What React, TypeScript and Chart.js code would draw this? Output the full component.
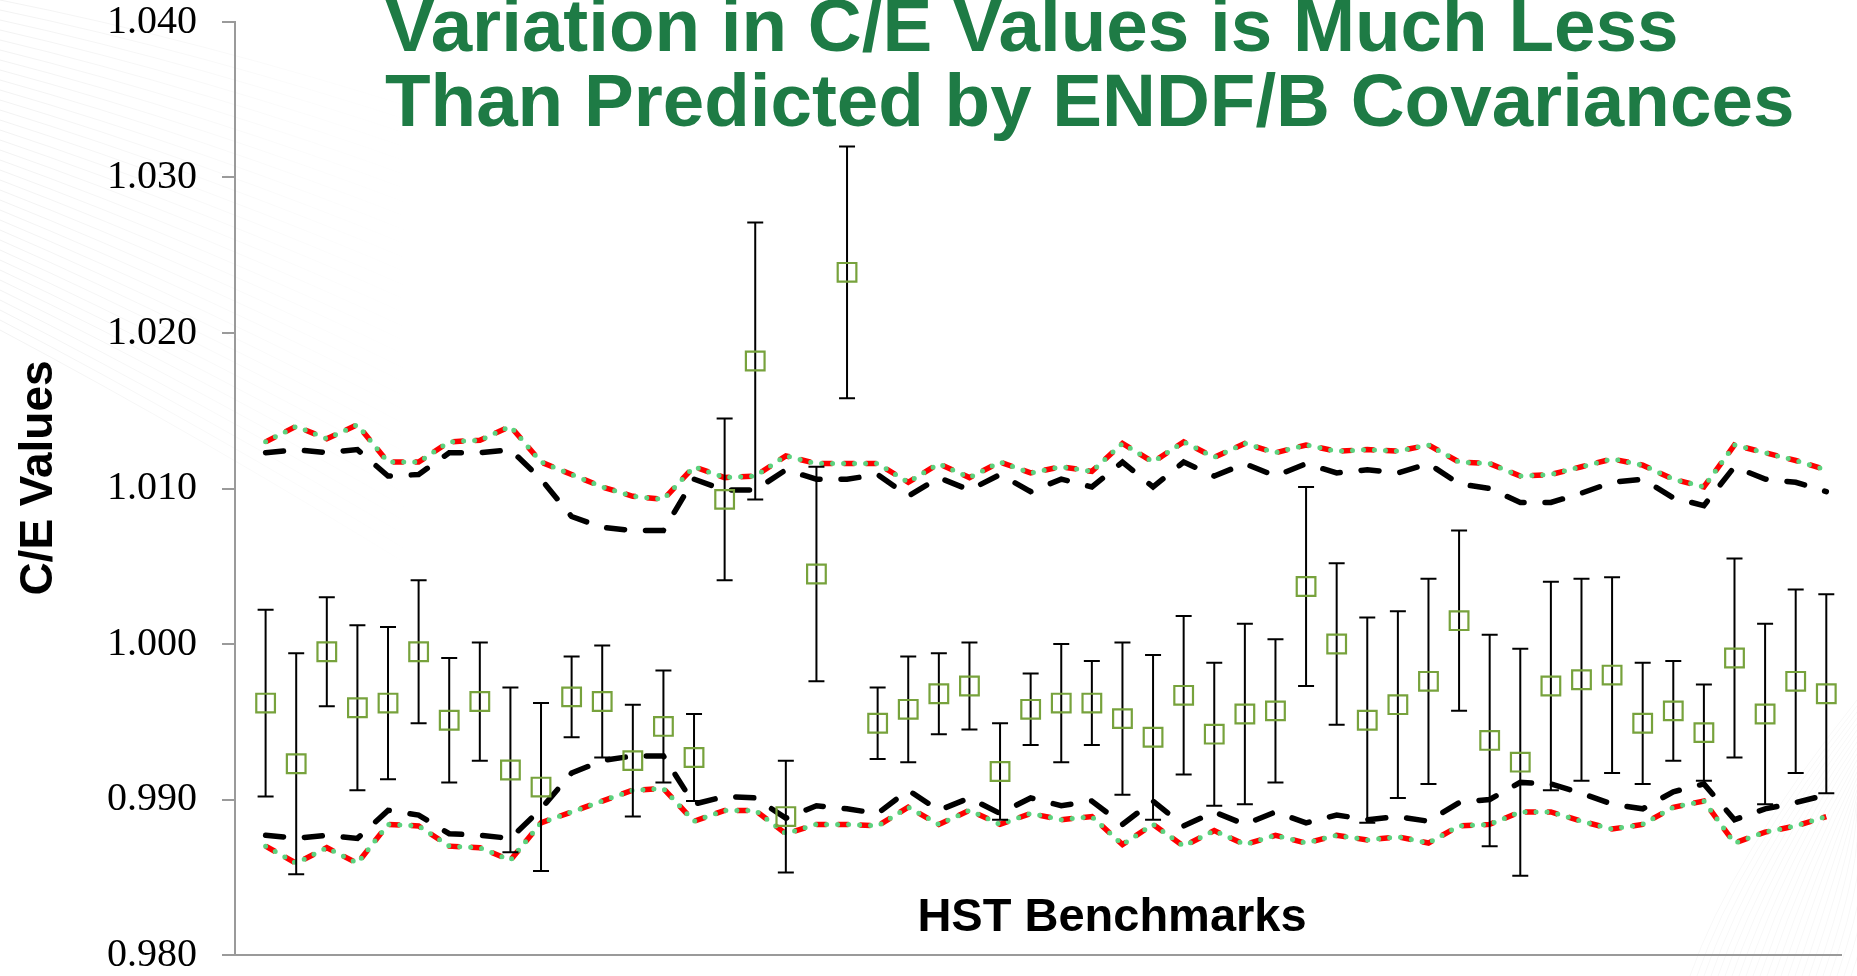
import { useEffect, useRef } from 'react';
import { Chart, registerables } from 'chart.js';

Chart.register(...registerables);

const benchmarks = [
  1, 2, 3, 4, 5, 6, 7, 8, 9, 10, 11, 12, 13, 14, 15, 16, 17, 18, 19, 20, 21, 22, 23, 24, 25, 26,
  27, 28, 29, 30, 31, 32, 33, 34, 35, 36, 37, 38, 39, 40, 41, 42, 43, 44, 45, 46, 47, 48, 49, 50, 51, 52,
];

const ceValues = [
  0.9962, 0.9923, 0.9995, 0.9959, 0.9962, 0.9995, 0.9951, 0.9963, 0.9919, 0.9908,
  0.9966, 0.9963, 0.9925, 0.9947, 0.9927, 1.0093, 1.0182, 0.9889, 1.0045, 1.0239,
  0.9949, 0.9958, 0.9968, 0.9973, 0.9918, 0.9958, 0.9962, 0.9962, 0.9952, 0.994,
  0.9967, 0.9942, 0.9955, 0.9957, 1.0037, 1.0, 0.9951, 0.9961, 0.9976, 1.0015,
  0.9938, 0.9924, 0.9973, 0.9977, 0.998, 0.9949, 0.9957, 0.9943, 0.9991, 0.9955,
  0.9976, 0.9968,
];

const ceErrors = [
  0.006, 0.0071, 0.0035, 0.0053, 0.0049, 0.0046, 0.004, 0.0038, 0.0053, 0.0054,
  0.0026, 0.0036, 0.0036, 0.0036, 0.0028, 0.0052, 0.0089, 0.0036, 0.0069, 0.0081,
  0.0023, 0.0034, 0.0026, 0.0028, 0.0031, 0.0023, 0.0038, 0.0027, 0.0049, 0.0053,
  0.0051, 0.0046, 0.0058, 0.0046, 0.0064, 0.0052, 0.0066, 0.006, 0.0066, 0.0058,
  0.0068, 0.0073, 0.0067, 0.0065, 0.0063, 0.0039, 0.0032, 0.0031, 0.0064, 0.0058,
  0.0059, 0.0064,
];

// red / green dotted band
const upperA = [
  1.013, 1.014, 1.0132, 1.0141, 1.0117, 1.0117, 1.013, 1.0131, 1.014, 1.0117,
  1.0109, 1.0101, 1.0095, 1.0093, 1.0114, 1.0107, 1.0108, 1.0121, 1.0116, 1.0116,
  1.0116, 1.0104, 1.0116, 1.0107, 1.0117, 1.011, 1.0114, 1.0111, 1.0129, 1.0117,
  1.013, 1.012, 1.0129, 1.0123, 1.0128, 1.0124, 1.0125, 1.0124, 1.0128, 1.0117,
  1.0116, 1.0108, 1.0109, 1.0114, 1.0119, 1.0115, 1.0106, 1.0101, 1.0128, 1.0123,
  1.0118, 1.0112,
];

const lowerA = [
  0.987, 0.9859, 0.9869, 0.9859, 0.9884, 0.9883, 0.987, 0.9869, 0.9861, 0.9885,
  0.9892, 0.9899, 0.9906, 0.9907, 0.9886, 0.9893, 0.9893, 0.9878, 0.9884, 0.9884,
  0.9883, 0.9895, 0.9884, 0.9893, 0.9884, 0.9891, 0.9887, 0.9889, 0.9871, 0.9884,
  0.987, 0.988, 0.9871, 0.9877, 0.9872, 0.9877, 0.9874, 0.9876, 0.9872, 0.9883,
  0.9884, 0.9892, 0.9892, 0.9886, 0.9881, 0.9884, 0.9895, 0.9899, 0.9872, 0.9879,
  0.9883, 0.9889,
];

// black dashed band
const upperB = [
  1.0123, 1.0125, 1.0123, 1.0125, 1.0108, 1.0109, 1.0123, 1.0123, 1.0125, 1.0106,
  1.0082, 1.0075, 1.0073, 1.0073, 1.0106, 1.0099, 1.0099, 1.0112, 1.0106, 1.0106,
  1.0109, 1.0095, 1.0107, 1.0099, 1.0109, 1.0098, 1.0106, 1.0101, 1.0117, 1.0101,
  1.0117, 1.0108, 1.0116, 1.0108, 1.0116, 1.011, 1.0112, 1.011, 1.0116, 1.0103,
  1.01, 1.0091, 1.0091, 1.0097, 1.0104, 1.0106, 1.0094, 1.0089, 1.0114, 1.0106,
  1.0104, 1.0098,
];

const lowerB = [
  0.9877, 0.9875, 0.9877, 0.9875, 0.9893, 0.989, 0.9878, 0.9877, 0.9875, 0.9894,
  0.9917, 0.9925, 0.9928, 0.9928, 0.9897, 0.9902, 0.9901, 0.9888, 0.9896, 0.9894,
  0.9891, 0.9906, 0.9893, 0.9901, 0.9891, 0.9901, 0.9896, 0.9899, 0.9884, 0.9899,
  0.9883, 0.9892, 0.9884, 0.9892, 0.9885, 0.989, 0.9887, 0.9889, 0.9886, 0.9898,
  0.99, 0.9911, 0.991, 0.9904, 0.9897, 0.9894, 0.9905, 0.991, 0.9887, 0.9894,
  0.9898, 0.9903,
];

const yTicks = [0.98, 0.99, 1.0, 1.01, 1.02, 1.03, 1.04];

const titleLines = ['Variation in C/E Values is Much Less', 'Than Predicted by ENDF/B Covariances'];
const yTitle = 'C/E Values';
const xTitle = 'HST Benchmarks';

const SANS = "'Liberation Sans', Arial, sans-serif";
const SERIF = "'Liberation Serif', 'Times New Roman', serif";

const toXY = (arr: number[]) => arr.map((v, i) => ({ x: benchmarks[i], y: v }));

export default function App() {
  const ref = useRef<HTMLCanvasElement>(null);

  useEffect(() => {
    const canvas = ref.current;
    if (!canvas) return;

    const backdrop = {
      id: 'backdrop',
      beforeDraw(chart: any) {
        const { ctx } = chart;
        ctx.save();
        ctx.lineWidth = 1;
        for (let k = 0; k < 34; k++) {
          const y0 = k * 10;
          const g = ctx.createLinearGradient(0, 0, 420, 0);
          g.addColorStop(0, 'rgba(0,0,0,0.05)');
          g.addColorStop(1, 'rgba(0,0,0,0)');
          ctx.strokeStyle = g;
          ctx.beginPath();
          ctx.moveTo(0, y0);
          ctx.quadraticCurveTo(200, y0 + 40 + k * 2, 420, y0 + 110 + k * 4);
          ctx.stroke();
        }
        for (let k = 0; k < 24; k++) {
          const x0 = 1690 + k * 7;
          ctx.strokeStyle = 'rgba(0,40,0,0.03)';
          ctx.beginPath();
          ctx.moveTo(x0, 976);
          ctx.quadraticCurveTo(x0 + 40, 860, 1857, 700 + k * 6);
          ctx.stroke();
        }
        ctx.restore();
      },
    };

    const errorBars = {
      id: 'errorBars',
      beforeDatasetDraw(chart: any, args: any) {
        if (args.index !== 0) return;
        const { ctx, scales } = chart;
        ctx.save();
        ctx.strokeStyle = '#000';
        ctx.lineWidth = 2;
        ceValues.forEach((v, i) => {
          const x = scales.x.getPixelForValue(benchmarks[i]);
          const yt = scales.y.getPixelForValue(v + ceErrors[i]);
          const yb = scales.y.getPixelForValue(v - ceErrors[i]);
          ctx.beginPath();
          ctx.moveTo(x, yt);
          ctx.lineTo(x, yb);
          ctx.moveTo(x - 8, yt);
          ctx.lineTo(x + 8, yt);
          ctx.moveTo(x - 8, yb);
          ctx.lineTo(x + 8, yb);
          ctx.stroke();
        });
        ctx.restore();
      },
    };

    const texts = {
      id: 'texts',
      afterDraw(chart: any) {
        const { ctx } = chart;
        ctx.save();
        ctx.fillStyle = '#1E7B45';
        ctx.font = `bold 74.6px ${SANS}`;
        ctx.textAlign = 'left';
        ctx.textBaseline = 'alphabetic';
        ctx.fillText(titleLines[0], 385, 51);
        ctx.fillText(titleLines[1], 385, 126);

        ctx.fillStyle = '#000';
        ctx.font = `bold 47px ${SANS}`;
        ctx.textAlign = 'center';
        ctx.fillText(xTitle, 1112, 931);

        ctx.translate(52, 478);
        ctx.rotate(-Math.PI / 2);
        ctx.font = `bold 46px ${SANS}`;
        ctx.fillText(yTitle, 0, 0);
        ctx.restore();
      },
    };

    const dots = (arr: number[], label: string) => ({
      label,
      data: toXY(arr),
      showLine: true,
      borderColor: '#5CD27E',
      borderWidth: 5,
      borderDash: [0, 11],
      borderCapStyle: 'round',
      pointRadius: 0,
    });
    const reds = (arr: number[], label: string) => ({
      label,
      data: toXY(arr),
      showLine: true,
      borderColor: '#FF0000',
      borderWidth: 5.5,
      borderDash: [11, 11],
      borderCapStyle: 'butt',
      pointRadius: 0,
    });
    const blacks = (arr: number[], label: string) => ({
      label,
      data: toXY(arr),
      showLine: true,
      borderColor: '#000',
      borderWidth: 5.5,
      borderDash: [18, 21],
      borderCapStyle: 'round',
      pointRadius: 0,
    });

    const chart = new Chart(canvas, {
      type: 'scatter',
      data: {
        datasets: [
          {
            label: 'C/E',
            data: toXY(ceValues),
            showLine: false,
            pointStyle: 'rect',
            pointRadius: 13.2,
            pointBorderColor: '#77A23C',
            pointBorderWidth: 2.2,
            pointBackgroundColor: 'rgba(0,0,0,0)',
          },
          dots(upperA, 'upper A dots'),
          dots(lowerA, 'lower A dots'),
          reds(upperA, 'upper A'),
          reds(lowerA, 'lower A'),
          blacks(upperB, 'upper B'),
          blacks(lowerB, 'lower B'),
        ],
      },
      options: {
        animation: false,
        responsive: false,
        events: [],
        layout: { padding: { top: 22, right: 0, left: 0, bottom: 0 } },
        plugins: { legend: { display: false }, tooltip: { enabled: false }, title: { display: false } },
        scales: {
          x: {
            type: 'linear',
            min: 0,
            max: 52.5,
            ticks: { display: false },
            grid: { display: false },
            border: { display: true, color: '#9A9A9A', width: 2 },
            afterFit: (s: any) => {
              s.height = 21;
              s.paddingLeft = 0;
              s.paddingRight = 0;
            },
          },
          y: {
            type: 'linear',
            min: 0.98,
            max: 1.04,
            afterBuildTicks: (s: any) => {
              s.ticks = yTicks.map((v) => ({ value: v }));
            },
            ticks: {
              color: '#000',
              padding: 25,
              font: { family: SERIF, size: 40, lineHeight: 1 },
              callback: (v: any) => Number(v).toFixed(3),
            },
            grid: {
              display: true,
              drawOnChartArea: false,
              drawTicks: true,
              tickLength: 13,
              color: '#9A9A9A',
              lineWidth: 2,
            },
            border: { display: true, color: '#9A9A9A', width: 2 },
            afterFit: (s: any) => {
              s.width = 235;
              s.paddingTop = 0;
              s.paddingBottom = 0;
            },
          },
        },
      },
      plugins: [backdrop, errorBars, texts],
    } as any);

    return () => chart.destroy();
  }, []);

  return (
    <div style={{ position: 'fixed', left: 0, top: 0, width: 1857, height: 976, background: '#fff' }}>
      <canvas ref={ref} width={1857} height={976} style={{ width: 1857, height: 976, display: 'block' }} />
    </div>
  );
}
